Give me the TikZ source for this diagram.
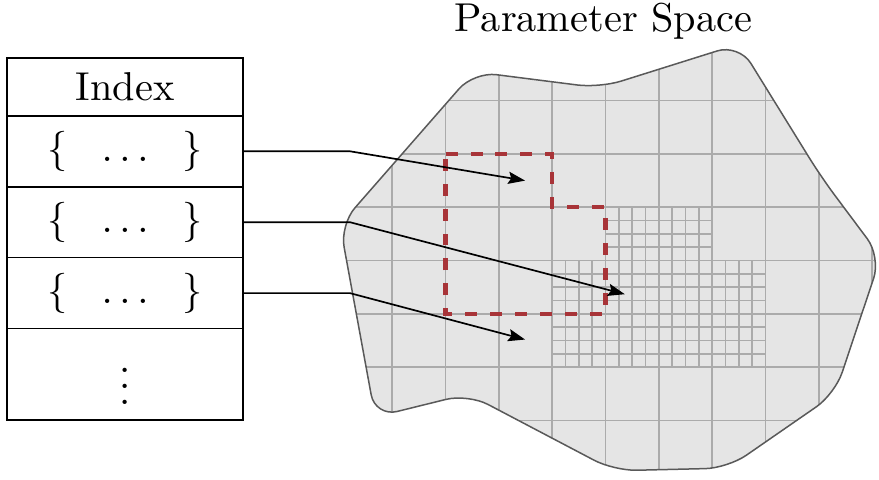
\documentclass[tikz,border=0pt]{standalone}
\usepackage{graphicx}
\usepackage{tikz}
\usetikzlibrary{arrows.meta,positioning}

\definecolor{spacefill}{gray}{0.9}
\definecolor{spaceedge}{gray}{0.35}
\definecolor{gridgray}{gray}{0.67}
\definecolor{cellred}{RGB}{168,52,56}

\newcommand{\bigtext}[1]{\scalebox{2.15}{#1}}

\tikzset{
  cell/.style={draw, line width=0.9pt, minimum width=4.43cm, inner sep=0pt, outer sep=0pt},
  gridline/.style={gridgray, line width=0.9pt},
  link/.style={line width=0.9pt, -{Stealth[length=9pt, width=6.5pt, inset=1.5pt]}},
}

\begin{document}
\begin{tikzpicture}
    \useasboundingbox (-10.356,-5.113) rectangle (6.126,3.887);
    \def\spaceoutline{(-3.65,-2.13) -- (-3.98,-0.33) -- (-1.47,2.54) -- (0.89,2.24)
        -- (3.50,3.06) -- (5.04,0.57) -- (6.16,-0.93) -- (5.30,-3.50) -- (3.29,-4.89)
        -- (1.16,-4.94) -- (-1.58,-3.50) -- (-3.32,-3.93) -- cycle}

    % Parameter space with its cells
    \begin{scope}
        \clip[rounded corners=12pt] \spaceoutline;
        \fill[spacefill] (-5,-6) rectangle (7,4);
        \draw[gridline] (-5,-6) grid (7,4);
        \draw[gridline, step=0.25] (1,-1) grid (3,0);
        \draw[gridline, step=0.25] (0,-3) grid (4,-1);
    \end{scope}
    \draw[spaceedge, line width=0.8pt, rounded corners=12pt] \spaceoutline;
    \node[anchor=base] (title) at (0.956,3.293) {\bigtext{Parameter Space}};

    % Selected region
    \draw[cellred, line width=2.3pt, dash pattern=on 6.4pt off 6.9pt]
        (-2,1) -- (0,1) -- (0,0) -- (1,0) -- (1,-2) -- (-2,-2) -- cycle;

    % Index table
    \node[cell, minimum height=1.08cm] (idx) at (-8.011,2.256) {\bigtext{Index}};
    \node[cell, minimum height=1.33cm, below=0pt of idx] (row1) {\bigtext{$\{\ \ \,\ldots\,\ \ \}$}};
    \node[cell, minimum height=1.33cm, below=0pt of row1] (row2) {\bigtext{$\{\ \ \,\ldots\,\ \ \}$}};
    \node[cell, minimum height=1.33cm, below=0pt of row2] (row3) {\bigtext{$\{\ \ \,\ldots\,\ \ \}$}};
    \node[cell, minimum height=1.72cm, below=0pt of row3] (rowmore) {\bigtext{$\vdots$}};

    % Pointers into the space
    \coordinate (hit1) at (-0.51,0.50);
    \coordinate (hit2) at (1.36,-1.63);
    \coordinate (hit3) at (-0.51,-2.48);
    \foreach \r/\h in {row1/hit1, row2/hit2, row3/hit3}
        \draw[link] (\r.east) -- ++(2,0) -- (\h);
\end{tikzpicture}
\end{document}
